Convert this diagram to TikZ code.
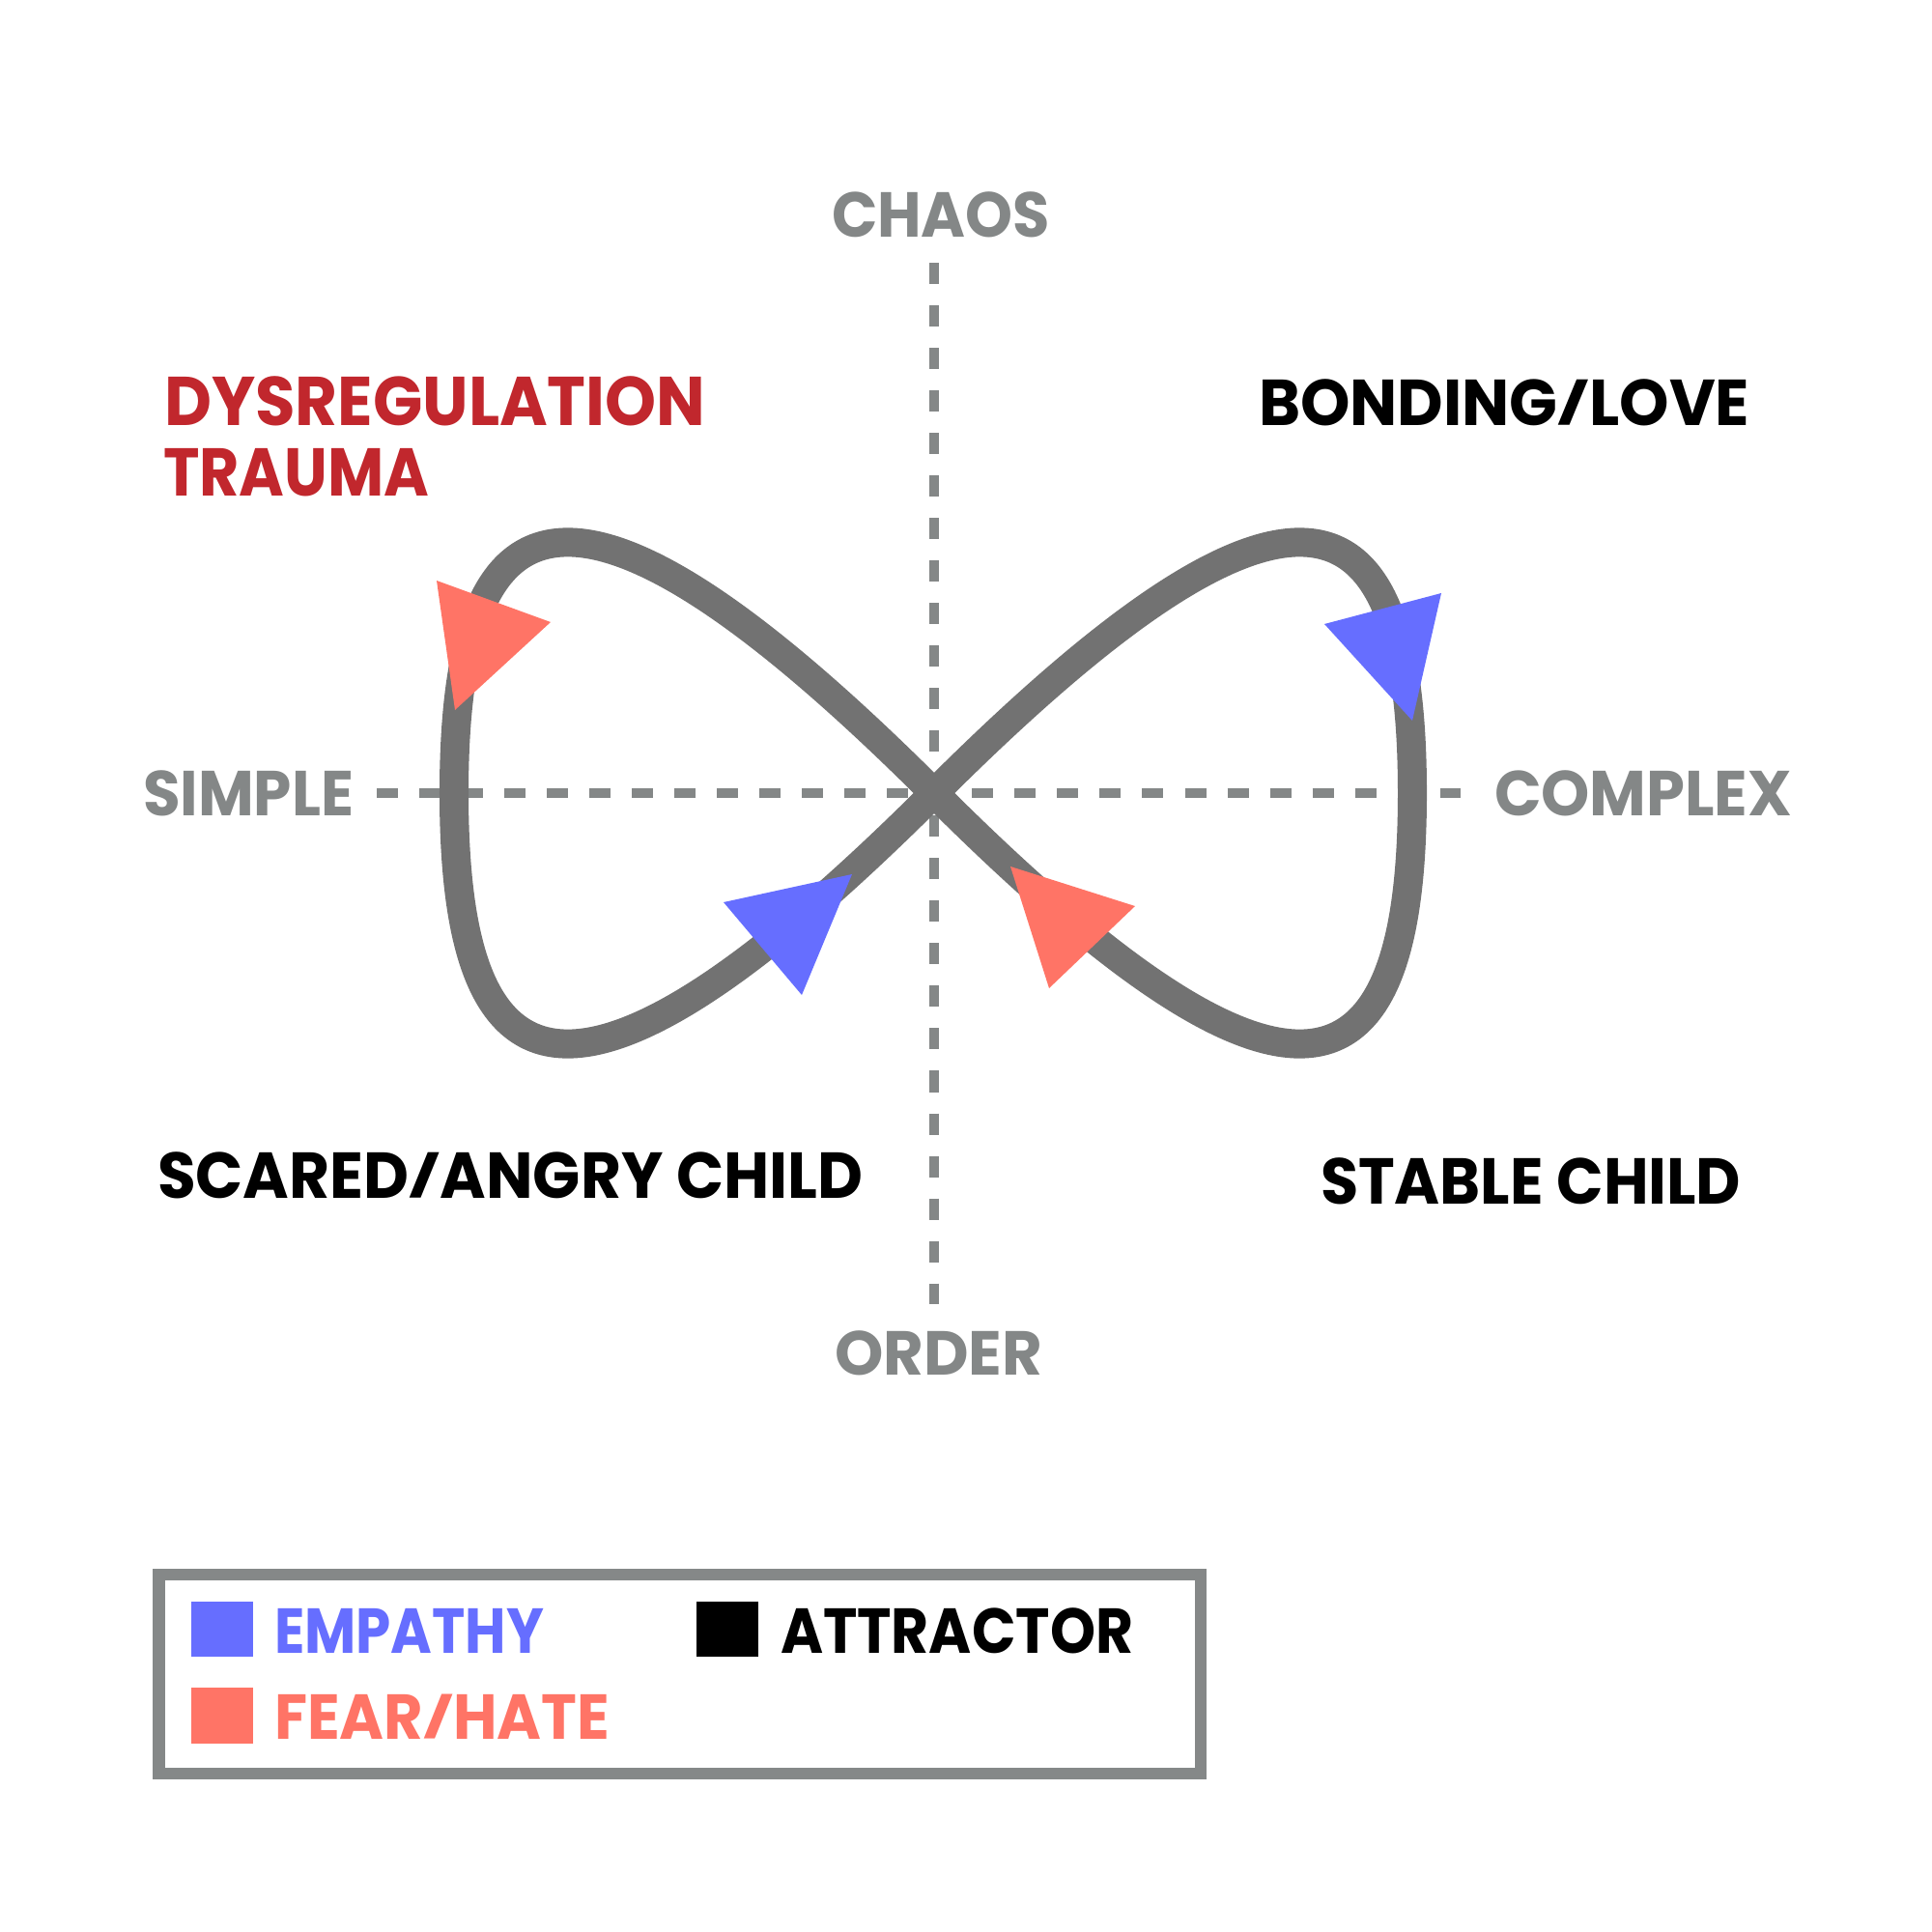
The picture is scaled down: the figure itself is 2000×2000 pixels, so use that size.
\documentclass[tikz,border=0pt]{standalone}
\usepackage{fontspec}
\usepackage{graphicx}
\setmainfont{Poppins}
\definecolor{curvegray}{HTML}{727272}
\definecolor{axisgray}{HTML}{848787}
\definecolor{dred}{HTML}{C1272D}
\definecolor{eblue}{HTML}{666EFF}
\definecolor{fsalmon}{HTML}{FF7466}
\definecolor{boxgray}{HTML}{858888}
\newcommand{\fitlbl}[3]{{\fontsize{#2}{#2}\selectfont\bfseries\resizebox{#1}{\height}{#3}}}
\newcommand{\slsh}{\resizebox{0.5em}{0.70em}{\raisebox{\depth}{/}}}
\begin{document}
\begin{tikzpicture}[x=0.01cm,y=-0.01cm,
  lbl/.style={anchor=base west, inner sep=0pt, outer sep=0pt},
  axisline/.style={draw=axisgray, line width=0.1cm, dash pattern=on 0.22cm off 0.22cm},
  loopline/.style={draw=curvegray, line width=0.3cm},
  legendbox/.style={draw=boxgray, line width=0.12cm}]
\path[fill=white] (0,0) rectangle (2000,2000);
\useasboundingbox (0,0) rectangle (2000,2000);

% axes
\coordinate (vtop) at (967,272);
\coordinate (vbot) at (967,1350);
\coordinate (hl) at (390,821);
\coordinate (hr) at (1512,821);
\draw[axisline] (vtop) -- (vbot);
\draw[axisline] (hl) -- (hr);

% figure eight
\coordinate (X) at (967,821);
\coordinate (L) at (470,821);
\coordinate (R) at (1462,821);
\draw[loopline] (X) .. controls (582,436) and (470,516) .. (L)
  .. controls (470,1126) and (582,1206) .. (X)
  .. controls (1352,436) and (1462,516) .. (R)
  .. controls (1462,1126) and (1352,1206) .. cycle;

% arrowheads
\fill[fsalmon] (452,601) -- (570,644) -- (471,735) -- cycle;
\fill[eblue] (749,934) -- (882,905) -- (830,1030) -- cycle;
\fill[eblue] (1371,646) -- (1492,614) -- (1462,746) -- cycle;
\fill[fsalmon] (1046,897) -- (1175,938) -- (1086,1023) -- cycle;

% labels
\node[lbl, text=axisgray] (chaos) at (861,246) {\fitlbl{2.26cm}{18.7pt}{CHAOS}};
\node[lbl, text=axisgray] (order) at (864,1423) {\fitlbl{2.15cm}{18.3pt}{ORDER}};
\node[lbl, text=axisgray] (simple) at (148,844) {\fitlbl{2.18cm}{18.7pt}{SIMPLE}};
\node[lbl, text=axisgray] (complex) at (1547,844) {\fitlbl{3.08cm}{18.7pt}{COMPLEX}};
\node[lbl, text=dred] (dysreg) at (170,440) {\fitlbl{5.60cm}{20.3pt}{DYSREGULATION}};
\node[lbl, text=dred] (trauma) at (169,513) {\fitlbl{2.75cm}{19.9pt}{TRAUMA}};
\node[lbl, text=black] (bonding) at (1303,440) {\fitlbl{5.08cm}{19.1pt}{BONDING\slsh LOVE}};
\node[lbl, text=black] (scared) at (163,1240) {\fitlbl{7.30cm}{19.1pt}{SCARED\slsh ANGRY CHILD}};
\node[lbl, text=black] (stable) at (1367,1246) {\fitlbl{4.35cm}{19.1pt}{STABLE CHILD}};

% legend
\draw[legendbox] (164.5,1629.5) rectangle (1243,1836);
\fill[eblue] (198,1658) rectangle (262,1715);
\fill[fsalmon] (198,1747) rectangle (262,1805);
\fill[black] (721,1658) rectangle (785,1715);
\node[lbl, text=eblue] (empathy) at (284,1711) {\fitlbl{2.79cm}{18.7pt}{EMPATHY}};
\node[lbl, text=black] (attractor) at (808,1711) {\fitlbl{3.65cm}{18.7pt}{ATTRACTOR}};
\node[lbl, text=fsalmon] (fear) at (284,1800) {\fitlbl{3.47cm}{18.7pt}{FEAR\slsh HATE}};
\end{tikzpicture}
\end{document}
